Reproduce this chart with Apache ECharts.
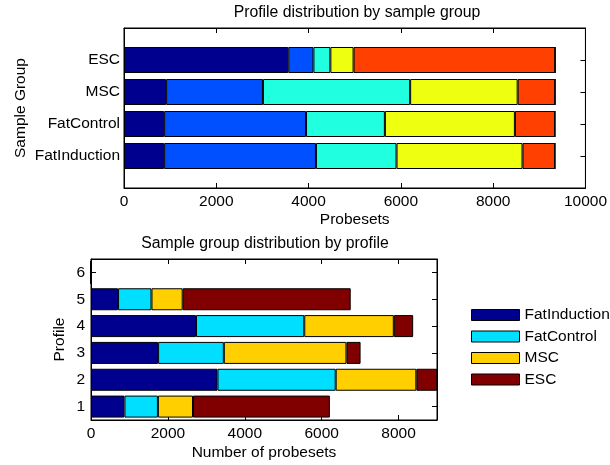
<!DOCTYPE html>
<html>
<head>
<meta charset="utf-8">
<script src="https://cdn.jsdelivr.net/npm/echarts@6/dist/echarts.min.js"></script>
<style>
    html, body { margin: 0; padding: 0; background: #fff; }
    #chart { width: 610px; height: 465px; }
</style>
</head>
<body>
<div id="chart"></div>
<script>
    // 数据 - 各样本组在 6 个 profile 中的探针数
    var groups = ['FatInduction', 'FatControl', 'MSC', 'ESC'];
    var profiles = ['1', '2', '3', '4', '5', '6'];
    var fatInduction = [870, 3290, 1746, 2730, 704, 0];
    var fatControl = [870, 3075, 1709, 2817, 869, 0];
    var msc = [913, 2098, 3190, 2330, 812, 0];
    var esc = [3560, 545, 367, 503, 4370, 0];
    var topTicks = ['', 'FatInduction', 'FatControl', 'MSC', 'ESC', ''];

    var profileColors = ['#00008f', '#0050ff', '#20ffdf', '#efff10', '#ff4000', '#800000'];
    var groupColors = ['#00008f', '#00dfff', '#ffcf00', '#800000'];

    var font = "'Liberation Sans', Arial, sans-serif";
    var fs = 15.5;
    var groupData = [fatInduction, fatControl, msc, esc];

    var series = [];
    // 上图: 每个 profile 一个系列
    for (var p = 0; p < profiles.length; p++) {
        var row = ['-'];
        for (var g = 0; g < groups.length; g++) {
            row.push(groupData[g][p]);
        }
        row.push('-');
        series.push({
            name: 'Profile ' + profiles[p],
            type: 'bar',
            stack: 'top',
            xAxisIndex: 0,
            yAxisIndex: 0,
            barWidth: 26,
            data: row,
            itemStyle: { color: profileColors[p], borderColor: '#000', borderWidth: 1 }
        });
    }
    // 下图: 每个样本组一个系列
    for (var g2 = 0; g2 < groups.length; g2++) {
        series.push({
            name: groups[g2],
            type: 'bar',
            stack: 'bottom',
            xAxisIndex: 2,
            yAxisIndex: 2,
            barWidth: 22,
            data: groupData[g2],
            itemStyle: { color: groupColors[g2], borderColor: '#000', borderWidth: 1 }
        });
    }

    function tick(align) {
        return { show: true, inside: true, length: 5, alignWithLabel: align, lineStyle: { color: '#000', width: 1 } };
    }
    function line() {
        return { show: true, onZero: false, lineStyle: { color: '#000', width: 1 } };
    }
    function plain(v) {
        return String(v);
    }
    var label = { color: '#000', fontFamily: font, fontSize: fs };

    var option = {
        animation: false,
        backgroundColor: '#fff',
        title: [{
            text: 'Profile distribution by sample group',
            left: 357, top: 5, textAlign: 'center', padding: 0,
            textStyle: { fontFamily: font, fontSize: 15.8, fontWeight: 'normal', color: '#000' }
        }, {
            text: 'Sample group distribution by profile',
            left: 265, top: 236, textAlign: 'center', padding: 0,
            textStyle: { fontFamily: font, fontSize: 15.8, fontWeight: 'normal', color: '#000' }
        }],
        legend: {
            orient: 'vertical',
            left: 466,
            top: 302,
            itemWidth: 48,
            itemHeight: 11,
            itemGap: 5.5,
            icon: 'rect',
            data: groups,
            itemStyle: { borderColor: '#000', borderWidth: 1 },
            textStyle: { fontFamily: font, fontSize: fs, color: '#000', lineHeight: 11 }
        },
        grid: [
            { left: 124, top: 28, width: 464, height: 160, show: true, borderColor: '#000', borderWidth: 1, backgroundColor: '#fff' },
            { left: 91, top: 259, width: 346, height: 161, show: true, borderColor: '#000', borderWidth: 1, backgroundColor: '#fff' }
        ],
        xAxis: [{
            gridIndex: 0, type: 'value', min: 0, max: 10000, interval: 2000,
            name: 'Probesets', nameLocation: 'middle', nameGap: 24, nameMoveOverlap: false,
            nameTextStyle: label,
            axisLine: line(), axisTick: tick(false), splitLine: { show: false },
            axisLabel: { color: '#000', fontFamily: font, fontSize: fs, margin: 6, formatter: plain }
        }, {
            gridIndex: 0, type: 'value', position: 'top', min: 0, max: 10000, interval: 2000,
            axisLine: line(), axisTick: tick(false), splitLine: { show: false }, axisLabel: { show: false }
        }, {
            gridIndex: 1, type: 'value', min: 0, max: 9000, interval: 2000,
            name: 'Number of probesets', nameLocation: 'middle', nameGap: 25, nameMoveOverlap: false,
            nameTextStyle: label,
            axisLine: line(), axisTick: tick(false), splitLine: { show: false },
            axisLabel: { color: '#000', fontFamily: font, fontSize: fs, margin: 6, showMaxLabel: false, formatter: plain }
        }, {
            gridIndex: 1, type: 'value', position: 'top', min: 0, max: 9000, interval: 2000,
            axisLine: line(), axisTick: tick(false), splitLine: { show: false }, axisLabel: { show: false }
        }],
        yAxis: [{
            gridIndex: 0, type: 'category', data: topTicks, boundaryGap: false,
            name: 'Sample Group', nameLocation: 'middle', nameGap: 95, nameMoveOverlap: false,
            nameTextStyle: label,
            axisLine: line(), axisTick: tick(false),
            axisLabel: { color: '#000', fontFamily: font, fontSize: fs, margin: 4 }
        }, {
            gridIndex: 0, type: 'category', data: topTicks, boundaryGap: false, position: 'right',
            axisLine: line(), axisTick: tick(false), axisLabel: { show: false }
        }, {
            gridIndex: 1, type: 'category', data: profiles,
            name: 'Profile', nameLocation: 'middle', nameGap: 23, nameMoveOverlap: false,
            nameTextStyle: label,
            axisLine: line(), axisTick: tick(true),
            axisLabel: { color: '#000', fontFamily: font, fontSize: fs, margin: 6 }
        }, {
            gridIndex: 1, type: 'category', data: profiles, position: 'right',
            axisLine: line(), axisTick: tick(true), axisLabel: { show: false }
        }],
        series: series
    };

    var myChart = echarts.init(document.getElementById('chart'));
    myChart.setOption(option);
</script>
</body>
</html>
